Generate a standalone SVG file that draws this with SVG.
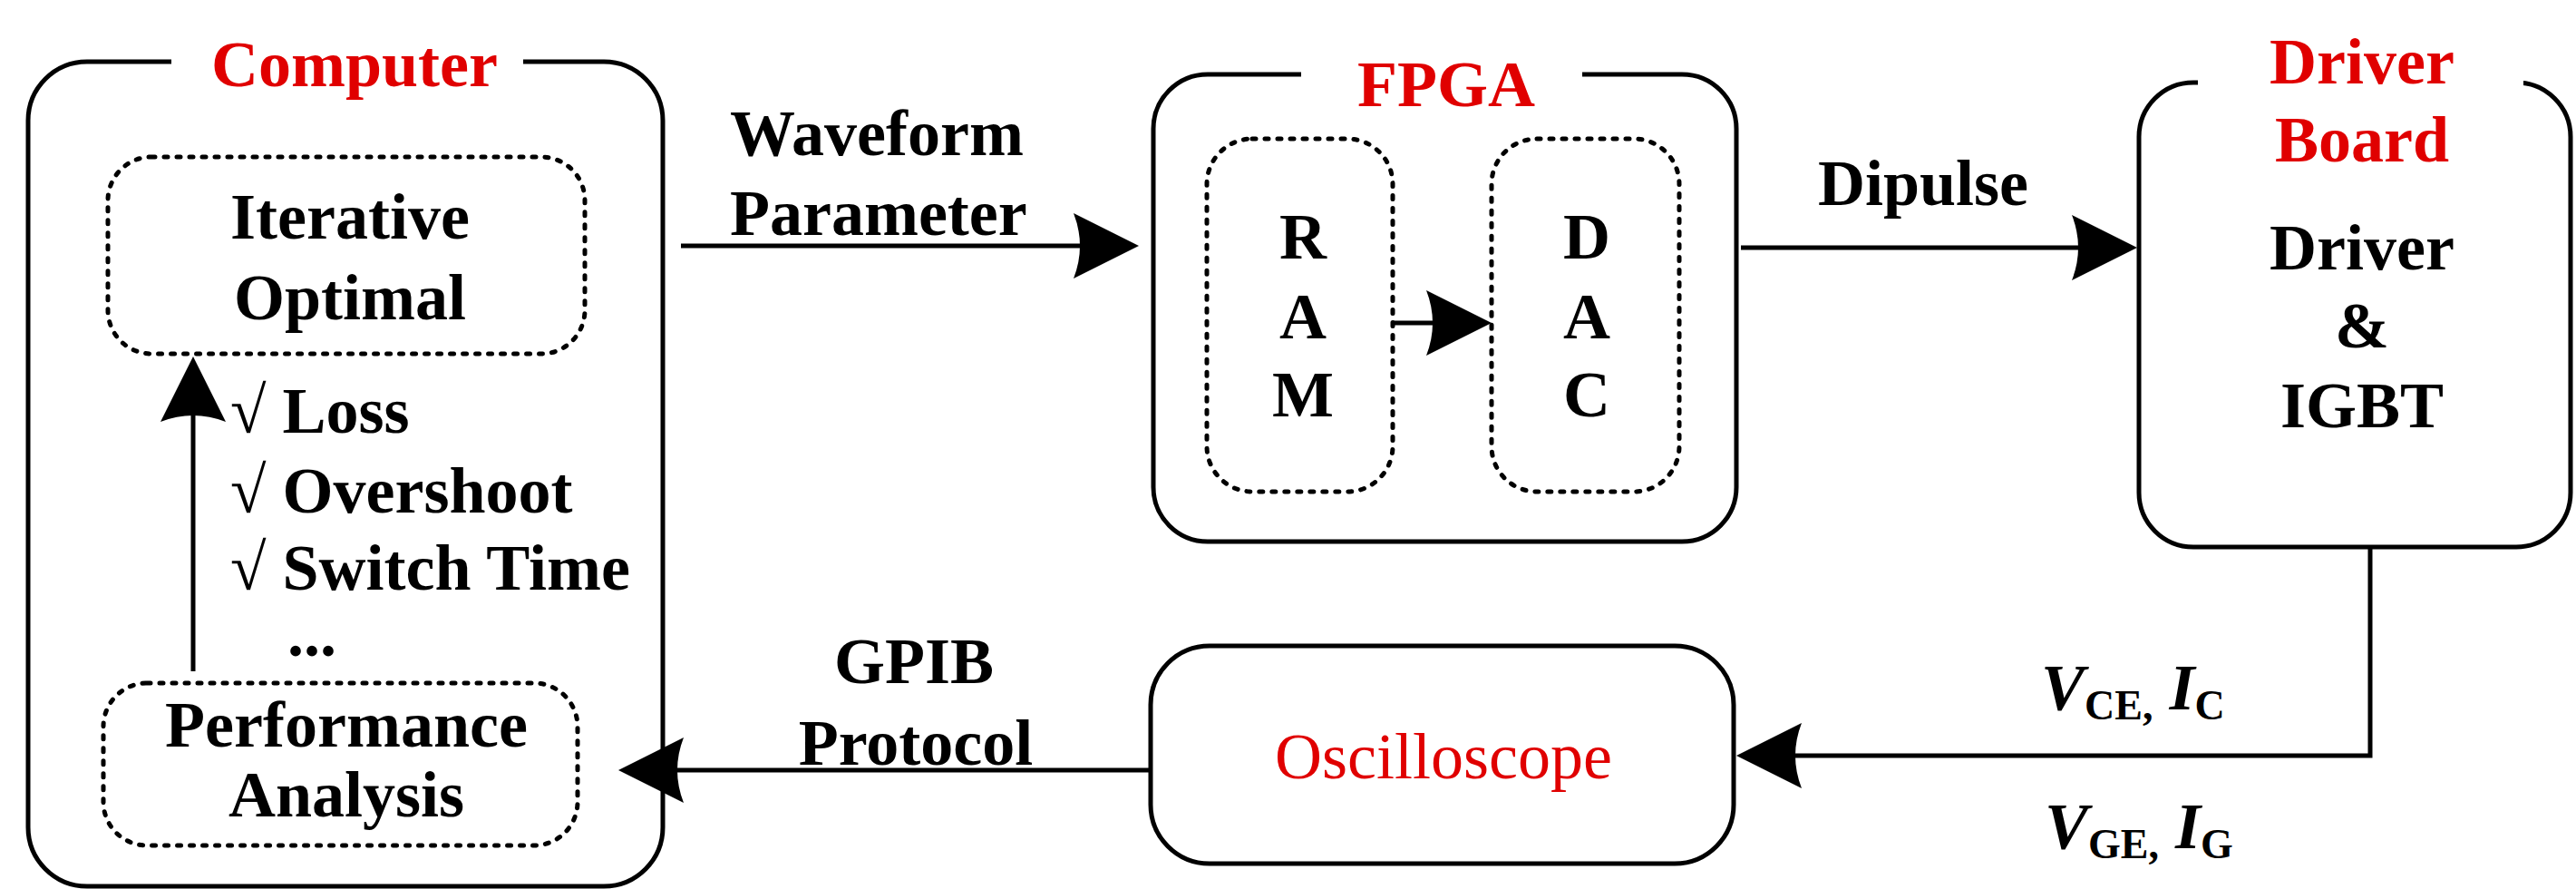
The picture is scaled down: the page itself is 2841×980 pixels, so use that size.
<svg xmlns="http://www.w3.org/2000/svg" width="2841" height="980" viewBox="0 0 2841 980">
<style>
  .box{fill:#fff;stroke:#000;stroke-width:5}
  .dash{fill:none;stroke:#000;stroke-width:5;stroke-dasharray:4 10;stroke-linecap:round}
  .wire{fill:none;stroke:#000;stroke-width:5}
  .t{font-family:"Liberation Serif","Times New Roman",serif;font-weight:bold;font-size:72px;fill:#000}
  .red{fill:#e00000}
  .mid{text-anchor:middle}
  .reg{font-weight:normal}
</style>
<defs>
  <marker id="ah" markerUnits="userSpaceOnUse" viewBox="-80 -40 90 80" refX="-60" refY="0" markerWidth="90" markerHeight="80" orient="auto" overflow="visible">
    <path d="M0,0 L-72,-36 Q-58,0 -72,36 Z" fill="#000"/>
  </marker>
</defs>
<rect width="2841" height="980" fill="#fff"/>

<g id="computer">
  <rect class="box" x="31" y="68" width="700" height="909" rx="65"/>
  <rect x="189" y="40" width="388" height="60" fill="#fff"/>
  <text class="t red mid" x="391" y="95">Computer</text>
  <text class="t" x="254" y="477">√ Loss</text>
  <text class="t" x="254" y="565">√ Overshoot</text>
  <text class="t" x="254" y="650">√ Switch Time</text>
  <text class="t" x="317" y="723">...</text>
</g>
<g id="iterative">
  <rect class="dash" x="119" y="173" width="526" height="217" rx="48"/>
  <text class="t mid" x="386" y="263">Iterative</text>
  <text class="t mid" x="386" y="352">Optimal</text>
</g>
<g id="performance">
  <rect class="dash" x="114" y="753" width="523" height="179" rx="48"/>
  <text class="t mid" x="382" y="823">Performance</text>
  <text class="t mid" x="382" y="900">Analysis</text>
</g>

<g id="fpga">
  <rect class="box" x="1272" y="82" width="643" height="515" rx="60"/>
  <rect x="1435" y="50" width="310" height="60" fill="#fff"/>
  <text class="t red mid" x="1595" y="117">FPGA</text>
</g>
<g id="ram">
  <rect class="dash" x="1331" y="153" width="205" height="389" rx="50"/>
  <text class="t mid" x="1437" y="285">R</text>
  <text class="t mid" x="1437" y="373">A</text>
  <text class="t mid" x="1437" y="459">M</text>
</g>
<g id="dac">
  <rect class="dash" x="1645" y="153" width="207" height="389" rx="50"/>
  <text class="t mid" x="1750" y="285">D</text>
  <text class="t mid" x="1750" y="373">A</text>
  <text class="t mid" x="1750" y="459">C</text>
</g>

<g id="driver">
  <rect class="box" x="2359" y="91" width="476" height="512" rx="60"/>
  <rect x="2424" y="40" width="359" height="100" fill="#fff"/>
  <text class="t red mid" x="2605" y="92">Driver</text>
  <text class="t red mid" x="2605" y="178">Board</text>
  <text class="t mid" x="2605" y="297">Driver</text>
  <text class="t mid" x="2605" y="383">&amp;</text>
  <text class="t mid" x="2605" y="471">IGBT</text>
</g>

<g id="oscilloscope">
  <rect class="box" x="1269" y="712" width="643" height="240" rx="65"/>
  <text class="t red mid reg" x="1592" y="858">Oscilloscope</text>
</g>

<g id="connectors">
  <path class="wire" d="M751,271 H1196" marker-end="url(#ah)"/>
  <path class="wire" d="M1536,356 H1585" marker-end="url(#ah)"/>
  <path class="wire" d="M1920,273 H2297" marker-end="url(#ah)"/>
  <path class="wire" d="M2614,603 V833 H1975" marker-end="url(#ah)"/>
  <path class="wire" d="M1269,849 H742" marker-end="url(#ah)"/>
  <path class="wire" d="M213,740 V453" marker-end="url(#ah)"/>
  <text class="t" x="805" y="171">Waveform</text>
  <text class="t" x="805" y="259">Parameter</text>
  <text class="t" x="2005" y="226">Dipulse</text>
  <text class="t mid" x="1008" y="753">GPIB</text>
  <text class="t mid" x="1010" y="843">Protocol</text>
  <text class="t" x="2251" y="782"><tspan font-style="italic">V</tspan><tspan font-size="46" dy="11">CE,</tspan><tspan dy="-11"> </tspan><tspan font-style="italic">I</tspan><tspan font-size="46" dy="11">C</tspan></text>
  <text class="t" x="2255" y="935"><tspan font-style="italic">V</tspan><tspan font-size="46" dy="11">GE,</tspan><tspan dy="-11"> </tspan><tspan font-style="italic">I</tspan><tspan font-size="46" dy="11">G</tspan></text>
</g>
</svg>
